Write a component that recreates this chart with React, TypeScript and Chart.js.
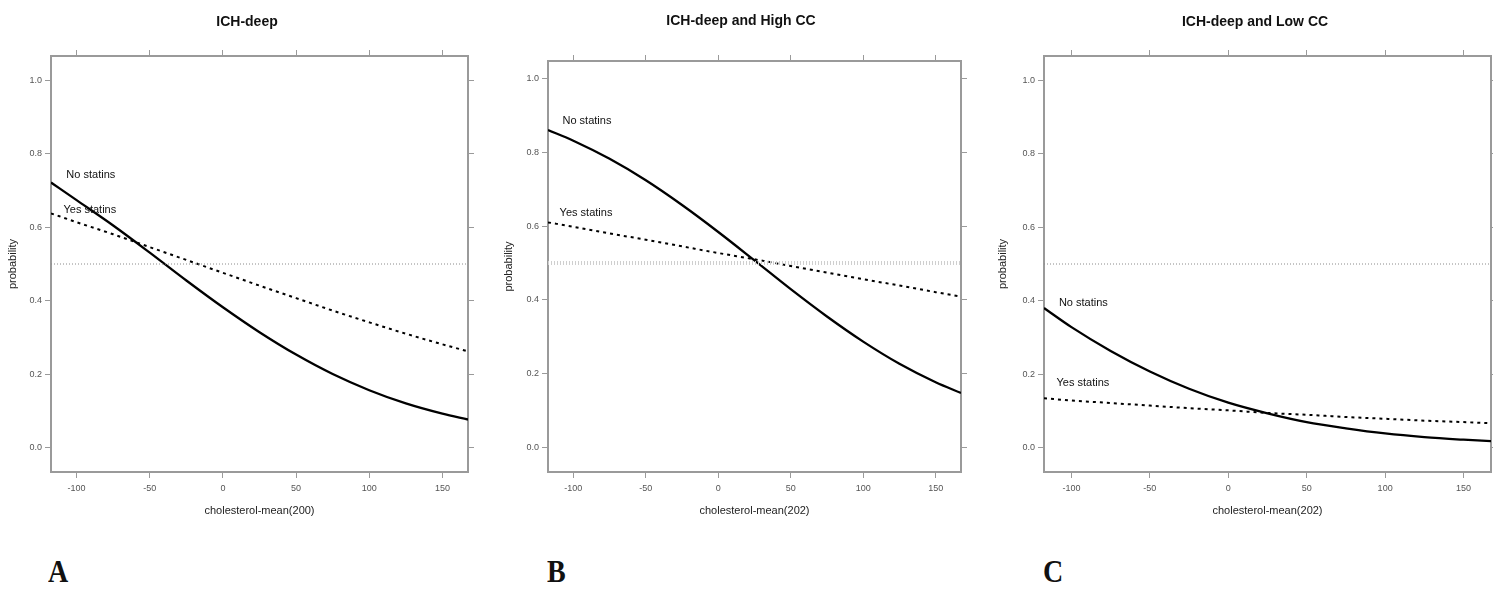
import React, { useEffect, useRef } from "react";
import { Chart, registerables } from "chart.js";

Chart.register(...registerables);
Chart.defaults.font.family = "'Liberation Sans', Arial, sans-serif";

// ---------------- data ----------------
const xValues = [-117.5, -100, -75, -50, -25, 0, 25, 50, 75, 100, 125, 150, 167.5];
const xTickValues = [-100, -50, 0, 50, 100, 150];
const yTickValues = [0, 0.2, 0.4, 0.6, 0.8, 1.0];
const panelTitles = ["ICH-deep", "ICH-deep and High CC", "ICH-deep and Low CC"];
const xAxisTitles = ["cholesterol-mean(200)", "cholesterol-mean(202)", "cholesterol-mean(202)"];
const yAxisTitle = "probability";
const panelLetters = ["A", "B", "C"];
const seriesNames = ["No statins", "Yes statins"];
const referenceLevel = 0.5;

const noStatinsA = [0.722, 0.674, 0.605, 0.531, 0.455, 0.382, 0.314, 0.253, 0.2, 0.156, 0.12, 0.092, 0.076];
const yesStatinsA = [0.638, 0.614, 0.581, 0.546, 0.511, 0.476, 0.441, 0.407, 0.373, 0.341, 0.31, 0.281, 0.262];
const noStatinsB = [0.86, 0.831, 0.782, 0.724, 0.657, 0.584, 0.507, 0.429, 0.355, 0.287, 0.227, 0.177, 0.148];
const yesStatinsB = [0.61, 0.598, 0.58, 0.563, 0.545, 0.527, 0.51, 0.492, 0.474, 0.456, 0.439, 0.421, 0.409];
const noStatinsC = [0.38, 0.328, 0.263, 0.207, 0.16, 0.122, 0.093, 0.069, 0.052, 0.038, 0.028, 0.021, 0.017];
const yesStatinsC = [0.134, 0.128, 0.121, 0.114, 0.107, 0.101, 0.094, 0.089, 0.083, 0.078, 0.073, 0.069, 0.066];

// label anchors (data units) for the in-plot series labels
const labelAnchorsA = [[-107, 0.744], [-109, 0.646]];
const labelAnchorsB = [[-107.5, 0.885], [-109.5, 0.635]];
const labelAnchorsC = [[-108, 0.393], [-109.5, 0.175]];

const panelSeries = [
  [noStatinsA, yesStatinsA, labelAnchorsA],
  [noStatinsB, yesStatinsB, labelAnchorsB],
  [noStatinsC, yesStatinsC, labelAnchorsC],
];

// ---------------- layout (page pixels) ----------------
const CANVAS_H = 530;
const panelLayouts = [
  { left: 0, width: 494, L: 51, R: 468, T: 56, B: 472, titleY: 22, yTitleX: 13, yMin: -0.067, yMax: 1.067, refWidth: 1, refColor: "#8a8a8a", letterX: 48 },
  { left: 491, width: 500, L: 548, R: 961, T: 61, B: 472, titleY: 21, yTitleX: 509, yMin: -0.066, yMax: 1.047, refWidth: 4, refColor: "#cfcfcf", letterX: 547 },
  { left: 993, width: 524, L: 1044, R: 1491, T: 56, B: 472, titleY: 22, yTitleX: 1003, yMin: -0.067, yMax: 1.067, refWidth: 1, refColor: "#8a8a8a", letterX: 1043 },
];
const X_MIN = -117.5;
const X_MAX = 167.5;

const frameColor = "#9a9a9a";
const tickColor = "#555";

function toPoints(vals: number[]) {
  return vals.map((v, i) => ({ x: xValues[i], y: v }));
}

function makeChart(canvas: HTMLCanvasElement, idx: number) {
  const p = panelLayouts[idx];
  const [noS, yesS, anchors] = panelSeries[idx] as [number[], number[], number[][]];
  const titleSize = 14;
  const titleLH = titleSize * 1.2;
  const titlePadTop = p.titleY - titleLH / 2;
  const titleH = titlePadTop + titleLH;
  const topAxisH = p.T - titleH;
  const bottomAxisH = CANVAS_H - p.B;
  const leftAxisW = p.L - p.left;
  const rightAxisW = p.left + p.width - p.R;
  const axisTitleLH = 11 * 1.2;

  const setXTicks = (s: any) => {
    s.ticks = xTickValues.map((v) => ({ value: v }));
  };
  const setYTicks = (s: any) => {
    s.ticks = yTickValues.map((v) => ({ value: v }));
  };
  const gridOpts = {
    drawOnChartArea: false,
    drawTicks: true,
    tickLength: 6,
    color: frameColor,
    tickColor: frameColor,
    lineWidth: 1,
  };
  const borderOpts = { display: true, color: frameColor, width: 2 };

  const labelPlugin = {
    id: "seriesLabels",
    afterDatasetsDraw(chart: any) {
      const ctx = chart.ctx;
      const xs = chart.scales.x;
      const ys = chart.scales.y;
      ctx.save();
      ctx.fillStyle = "#111";
      ctx.font = "11px 'Liberation Sans', Arial, sans-serif";
      ctx.textAlign = "left";
      ctx.textBaseline = "middle";
      anchors.forEach((a, i) => {
        ctx.fillText(seriesNames[i], xs.getPixelForValue(a[0]), ys.getPixelForValue(a[1]));
      });
      ctx.restore();
    },
  };

  return new Chart(canvas, {
    type: "line",
    data: {
      datasets: [
        {
          label: "reference",
          data: [
            { x: X_MIN, y: referenceLevel },
            { x: X_MAX, y: referenceLevel },
          ],
          borderColor: p.refColor,
          borderWidth: p.refWidth,
          borderDash: [1, 2],
          pointRadius: 0,
        },
        {
          label: seriesNames[1],
          data: toPoints(yesS),
          borderColor: "#000",
          borderWidth: 2,
          borderDash: [3, 4],
          pointRadius: 0,
          cubicInterpolationMode: "monotone",
        },
        {
          label: seriesNames[0],
          data: toPoints(noS),
          borderColor: "#000",
          borderWidth: 2.3,
          pointRadius: 0,
          cubicInterpolationMode: "monotone",
        },
      ],
    },
    options: {
      animation: false,
      responsive: false,
      devicePixelRatio: 1,
      layout: { padding: 0 },
      events: [],
      plugins: {
        legend: { display: false },
        tooltip: { enabled: false },
        title: {
          display: true,
          text: panelTitles[idx],
          color: "#111",
          font: { size: titleSize, weight: "bold" },
          padding: { top: titlePadTop, bottom: 0 },
        },
      },
      scales: {
        x: {
          type: "linear",
          position: "bottom",
          min: X_MIN,
          max: X_MAX,
          afterBuildTicks: setXTicks,
          afterFit: (s: any) => {
            s.height = bottomAxisH;
          },
          ticks: {
            font: { size: 9 },
            color: tickColor,
            padding: 5,
            maxRotation: 0,
            autoSkip: false,
            callback: (v: any) => String(v),
          },
          grid: gridOpts,
          border: borderOpts,
          title: {
            display: true,
            text: xAxisTitles[idx],
            color: "#222",
            font: { size: 11 },
            padding: { top: 0, bottom: CANVAS_H - 511 - axisTitleLH / 2 },
          },
        },
        x2: {
          type: "linear",
          position: "top",
          min: X_MIN,
          max: X_MAX,
          afterBuildTicks: setXTicks,
          afterFit: (s: any) => {
            s.height = topAxisH;
          },
          ticks: { display: false },
          grid: gridOpts,
          border: borderOpts,
        },
        y: {
          type: "linear",
          position: "left",
          min: p.yMin,
          max: p.yMax,
          afterBuildTicks: setYTicks,
          afterFit: (s: any) => {
            s.width = leftAxisW;
          },
          ticks: {
            font: { size: 9 },
            color: tickColor,
            padding: 3,
            autoSkip: false,
            callback: (v: any) => Number(v).toFixed(1),
          },
          grid: gridOpts,
          border: borderOpts,
          title: {
            display: true,
            text: yAxisTitle,
            color: "#222",
            font: { size: 11 },
            padding: { top: p.yTitleX - p.left - axisTitleLH / 2, bottom: 0 },
          },
        },
        y2: {
          type: "linear",
          position: "right",
          min: p.yMin,
          max: p.yMax,
          afterBuildTicks: setYTicks,
          afterFit: (s: any) => {
            s.width = rightAxisW;
          },
          ticks: { display: false },
          grid: gridOpts,
          border: borderOpts,
        },
      },
    },
    plugins: [labelPlugin],
  } as any);
}

function Panel({ idx }: { idx: number }) {
  const ref = useRef<HTMLCanvasElement | null>(null);
  useEffect(() => {
    if (!ref.current) return;
    const chart = makeChart(ref.current, idx);
    return () => chart.destroy();
  }, [idx]);
  const p = panelLayouts[idx];
  return (
    <>
      <canvas
        ref={ref}
        width={p.width}
        height={CANVAS_H}
        style={{ position: "absolute", left: p.left, top: 0, width: p.width, height: CANVAS_H }}
      />
      <div
        style={{
          position: "absolute",
          left: p.letterX,
          top: 560,
          fontFamily: "'Liberation Serif', 'Times New Roman', serif",
          fontWeight: "bold",
          fontSize: 28,
          lineHeight: "28px",
          color: "#111",
          transform: "scaleY(1.12)",
          transformOrigin: "left bottom",
        }}
      >
        {panelLetters[idx]}
      </div>
    </>
  );
}

export default function App() {
  return (
    <div
      style={{
        position: "absolute",
        left: 0,
        top: 0,
        width: 1493,
        height: 591,
        overflow: "hidden",
        background: "#fff",
      }}
    >
      {[0, 1, 2].map((i) => (
        <Panel key={i} idx={i} />
      ))}
    </div>
  );
}
